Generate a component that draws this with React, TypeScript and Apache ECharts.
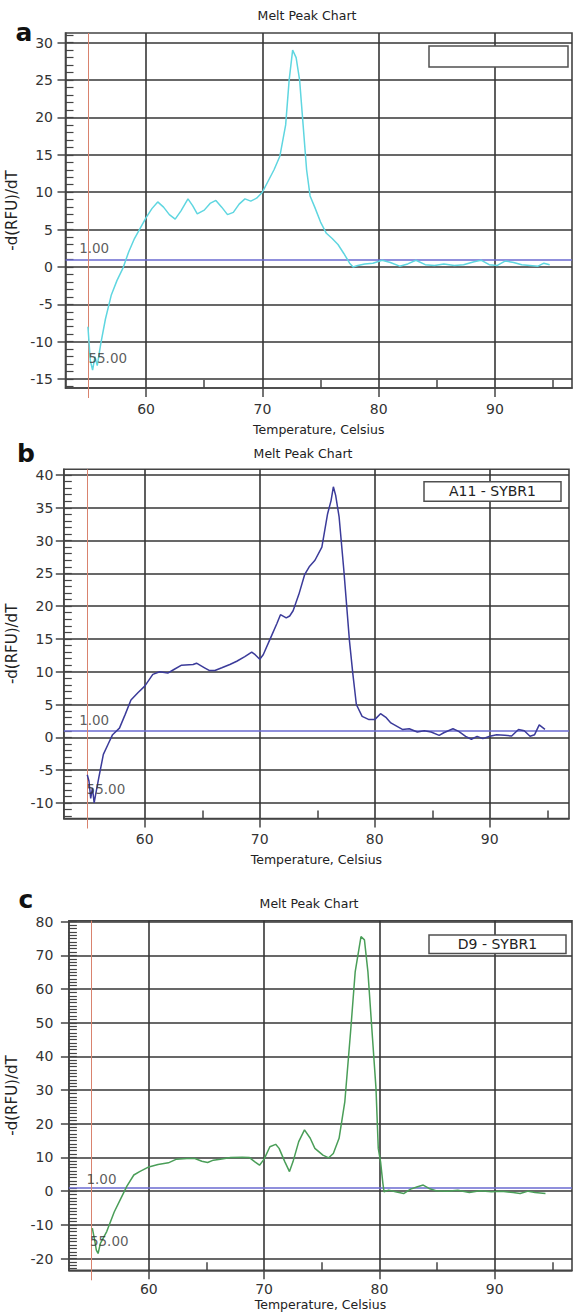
import React, { useEffect, useRef } from 'react';
import * as echarts from 'echarts';

// ---------- axis ticks ----------
const X_MAJOR_TICKS = [60, 70, 80, 90];
const X_MINOR_TICKS = [65, 75, 85, 95];
const MELT_MARKER_TEMP = 55;
const THRESHOLD = 1;
const A_Y_TICKS = [-15, -10, -5, 0, 5, 10, 15, 20, 25, 30];
const B_Y_TICKS = [-10, -5, 0, 5, 10, 15, 20, 25, 30, 35, 40];
const C_Y_TICKS = [-20, -10, 0, 10, 20, 30, 40, 50, 60, 70, 80];

// ---------- panel a ----------
const A_TEMP = [55.0, 55.2, 55.4, 55.6, 55.8, 56.1, 56.5, 57.0, 57.5, 58.0, 58.5, 59.0, 59.5, 60.0, 60.5, 61.0, 61.5, 62.0, 62.5, 63.0, 63.6, 64.0, 64.4, 65.0, 65.5, 66.0, 66.5, 67.0, 67.5, 68.0, 68.5, 69.0, 69.5, 70.0, 70.5, 71.0, 71.5, 72.0, 72.3, 72.6, 72.9, 73.2, 73.5, 73.8, 74.1, 74.5, 75.0, 75.5, 76.0, 76.5, 77.0, 77.5, 77.8, 78.2, 78.8, 79.5, 80.3, 81.0, 81.8, 82.5, 83.2, 84.0, 84.8, 85.6, 86.5, 87.3, 88.2, 88.8, 89.5, 90.2, 90.9, 91.6, 92.3, 93.0, 93.7, 94.2, 94.7];
const A_VALUE = [-8, -12.5, -13.8, -12, -13.2, -10.3, -7, -3.8, -1.8, -0.2, 2, 3.8, 5.2, 6.6, 7.8, 8.7, 8, 7, 6.4, 7.5, 9.1, 8.2, 7.1, 7.6, 8.5, 8.9, 8, 7, 7.3, 8.4, 9.1, 8.8, 9.2, 10, 11.5, 13, 14.8, 19, 25, 29, 28, 25, 19, 13, 9.5, 8, 6, 4.5, 3.8, 3, 1.8, 0.5, 0, 0.2, 0.4, 0.5, 0.9, 0.6, 0.1, 0.4, 0.9, 0.3, 0.2, 0.4, 0.2, 0.3, 0.7, 0.9, 0.3, 0.2, 0.8, 0.6, 0.3, 0.2, 0.1, 0.5, 0.3];

// ---------- panel b ----------
const B_TEMP = [55.0, 55.15, 55.3, 55.45, 55.6, 55.75, 56.0, 56.4, 56.8, 57.2, 57.8, 58.3, 58.8, 59.4, 60.0, 60.7, 61.3, 62.0, 62.5, 63.2, 64.2, 64.5, 65.2, 65.6, 66.1, 66.7, 67.4, 68.0, 68.7, 69.3, 69.6, 70.0, 70.3, 71.0, 71.5, 71.8, 72.3, 72.6, 72.9, 73.4, 73.9, 74.3, 74.8, 75.4, 75.9, 76.2, 76.4, 76.6, 76.9, 77.3, 77.8, 78.1, 78.4, 78.9, 79.5, 80.0, 80.5, 81.0, 81.4, 81.9, 82.4, 83.0, 83.7, 84.3, 84.9, 85.6, 86.0, 86.8, 87.3, 87.9, 88.4, 88.9, 89.4, 90.0, 90.6, 91.3, 91.9, 92.5, 93.0, 93.5, 93.9, 94.3, 94.8];
const B_VALUE = [-5.7, -6.7, -9.3, -7.7, -10, -8.5, -6.2, -2.6, -1.1, 0.4, 1.4, 3.5, 5.7, 6.8, 7.8, 9.6, 10, 9.8, 10.3, 11, 11.1, 11.3, 10.6, 10.2, 10.2, 10.6, 11.1, 11.6, 12.3, 13, 12.6, 11.9, 12.6, 15.4, 17.4, 18.7, 18.2, 18.5, 19.3, 21.8, 24.8, 26, 27, 29, 34.1, 36.1, 38.2, 36.9, 33.6, 25.7, 14.7, 9.6, 5, 3.2, 2.7, 2.7, 3.6, 3, 2.2, 1.7, 1.2, 1.3, 0.8, 1, 0.8, 0.3, 0.7, 1.3, 0.9, 0.15, -0.3, 0.15, -0.2, 0.15, 0.4, 0.3, 0.2, 1.2, 1, 0.15, 0.4, 1.9, 1.2];

// ---------- panel c ----------
const C_TEMP = [55.1, 55.3, 55.45, 55.6, 55.8, 56.35, 57.0, 57.6, 58.1, 58.7, 59.2, 60.0, 60.8, 61.7, 62.4, 63.3, 64.0, 64.6, 65.1, 65.6, 66.2, 67.1, 68.1, 68.7, 69.2, 69.6, 70.0, 70.5, 71.0, 71.3, 71.8, 72.2, 72.5, 73.0, 73.5, 74.0, 74.4, 75.1, 75.6, 76.0, 76.5, 77.0, 77.5, 77.9, 78.4, 78.7, 79.0, 79.4, 79.7, 79.9, 80.1, 80.3, 80.4, 80.8, 81.4, 82.1, 82.7, 83.3, 83.8, 84.3, 84.9, 85.9, 86.8, 87.8, 88.7, 89.7, 90.6, 91.6, 92.2, 92.9, 93.5, 94.4];
const C_VALUE = [-11, -14.5, -17.5, -18.5, -15.5, -12, -6.2, -2, 1.5, 4.8, 5.8, 7.2, 7.9, 8.4, 9.5, 9.7, 9.7, 8.9, 8.5, 9.2, 9.5, 10, 10.1, 10, 8.7, 7.7, 9.5, 13.2, 13.9, 12.7, 8.7, 5.8, 8.7, 14.7, 18.2, 15.7, 12.7, 10.7, 9.9, 11.2, 15.7, 26.6, 47.4, 65.2, 75.6, 74.6, 65.2, 45.4, 30.6, 12.7, 8.7, 2.3, -0.2, 0.3, -0.2, -0.7, 0.6, 1.3, 1.8, 0.8, 0.1, 0, 0.3, -0.4, 0.1, -0.2, 0, -0.4, -0.7, 0, -0.4, -0.7];

// ---------- annotation anchors (data coords) ----------
const A_LABEL_ANCHORS = [[54.2, 2.5], [55.0, -12.2]];
const B_LABEL_ANCHORS = [[54.25, 2.6], [54.9, -7.9]];
const C_LABEL_ANCHORS = [[54.55, 3.65], [54.85, -14.8]];
const ANCHOR_TEXTS = ['1.00', '55.00'];

const SERIES_NAMES = ['', 'A11 - SYBR1', 'D9 - SYBR1'];

const FONT = '"DejaVu Sans", Arial, sans-serif';
const GRID_COLOR = '#363636';
const FRAME_COLOR = '#444444';

const PANELS = [
  {
    letter: 'a', letterPos: [24, 32], titlePos: [307, 15],
    grid: { left: 65.5, top: 33, width: 506.5, height: 355 },
    xMin: 53.07, xMax: 96.62, yMin: -16.2, yMax: 31.3, yTicks: A_Y_TICKS,
    yLabelMargin: 12.5, yNameGap: 33, xLabelMargin: 14, xNameGap: 35,
    color: '#5fd6e0', temps: A_TEMP, values: A_VALUE, anchors: A_LABEL_ANCHORS,
    legend: { x: 429, y: 46, w: 139, h: 21 },
  },
  {
    letter: 'b', letterPos: [26, 453], titlePos: [303, 453],
    grid: { left: 63.8, top: 469.3, width: 505.2, height: 349.2 },
    xMin: 52.96, xMax: 96.89, yMin: -12.38, yMax: 40.87, yTicks: B_Y_TICKS,
    yLabelMargin: 10.5, yNameGap: 30, xLabelMargin: 13, xNameGap: 34,
    color: '#3b3b9a', temps: B_TEMP, values: B_VALUE, anchors: B_LABEL_ANCHORS,
    legend: { x: 424, y: 481.7, w: 137, h: 19.5 },
  },
  {
    letter: 'c', letterPos: [26, 899], titlePos: [309, 903],
    grid: { left: 68.9, top: 920.7, width: 503.1, height: 349.6 },
    xMin: 53.07, xMax: 96.7, yMin: -23.5, yMax: 80.3, yTicks: C_Y_TICKS,
    yLabelMargin: 15.6, yNameGap: 34, xLabelMargin: 12, xNameGap: 28,
    color: '#4a9e58', temps: C_TEMP, values: C_VALUE, anchors: C_LABEL_ANCHORS,
    legend: { x: 429, y: 935, w: 137, h: 18.5 },
  },
];

function intRange(lo: number, hi: number) {
  const out: number[] = [];
  for (let v = Math.ceil(lo); v <= Math.floor(hi); v++) out.push(v);
  return out;
}

function buildOption() {
  const grids: any[] = [];
  const xAxes: any[] = [];
  const yAxes: any[] = [];
  const series: any[] = [];
  const graphics: any[] = [];

  PANELS.forEach((p, i) => {
    grids.push({
      left: p.grid.left, top: p.grid.top, width: p.grid.width, height: p.grid.height,
      show: true, borderColor: FRAME_COLOR, borderWidth: 1.6, backgroundColor: '#ffffff',
      containLabel: false, outerBoundsMode: 'none',
    });

    const tickStyle = { color: FRAME_COLOR, width: 1.5 };
    // main x axis
    xAxes.push({
      type: 'value', gridIndex: i, min: p.xMin, max: p.xMax, position: 'bottom',
      axisLine: { show: true, onZero: false, lineStyle: tickStyle },
      axisTick: { show: true, customValues: X_MAJOR_TICKS, length: 9, inside: false, lineStyle: tickStyle },
      axisLabel: { show: true, customValues: X_MAJOR_TICKS, margin: p.xLabelMargin, fontSize: 14, color: '#333', fontFamily: FONT },
      splitLine: { show: true, lineStyle: { color: GRID_COLOR, width: 1.6 } },
      name: 'Temperature, Celsius', nameLocation: 'middle', nameGap: p.xNameGap,
      nameTextStyle: { fontSize: 12.5, color: '#222', fontFamily: FONT },
    });
    // minor inside x ticks
    xAxes.push({
      type: 'value', gridIndex: i, min: p.xMin, max: p.xMax, position: 'bottom',
      axisLine: { show: false, onZero: false },
      axisTick: { show: true, customValues: X_MINOR_TICKS, length: 8, inside: true, lineStyle: tickStyle },
      axisLabel: { show: false }, splitLine: { show: false },
    });
    // red marker tick below the frame
    xAxes.push({
      type: 'value', gridIndex: i, min: p.xMin, max: p.xMax, position: 'bottom',
      axisLine: { show: false, onZero: false },
      axisTick: { show: true, customValues: [MELT_MARKER_TEMP], length: 10, inside: false, lineStyle: { color: '#d9836e', width: 1 } },
      axisLabel: { show: false }, splitLine: { show: false },
    });

    // main y axis
    yAxes.push({
      type: 'value', gridIndex: i, min: p.yMin, max: p.yMax, position: 'left',
      axisLine: { show: true, onZero: false, lineStyle: tickStyle },
      axisTick: { show: true, customValues: p.yTicks, length: 8, inside: false, lineStyle: tickStyle },
      axisLabel: { show: true, customValues: p.yTicks, margin: p.yLabelMargin, fontSize: 14, color: '#333', fontFamily: FONT },
      splitLine: { show: true, lineStyle: { color: GRID_COLOR, width: 1.6 } },
      name: '-d(RFU)/dT', nameLocation: 'middle', nameGap: p.yNameGap,
      nameTextStyle: { fontSize: 15, color: '#222', fontFamily: FONT },
    });
    // minor inside y ticks
    yAxes.push({
      type: 'value', gridIndex: i, min: p.yMin, max: p.yMax, position: 'left',
      axisLine: { show: false, onZero: false },
      axisTick: { show: true, customValues: intRange(p.yMin, p.yMax), length: 8, inside: true, lineStyle: { color: FRAME_COLOR, width: 1.2 } },
      axisLabel: { show: false }, splitLine: { show: false },
    });

    series.push({
      type: 'line', name: SERIES_NAMES[i], xAxisIndex: i * 3, yAxisIndex: i * 2,
      data: p.temps.map((t, k) => [t, p.values[k]]),
      showSymbol: false, symbol: 'none', z: 5,
      lineStyle: { color: p.color, width: 1.5 },
      markLine: {
        silent: true, symbol: ['none', 'none'], label: { show: false }, animation: false,
        data: [
          { yAxis: THRESHOLD, lineStyle: { color: '#6a6ad0', width: 1.6, type: 'solid' } },
          { xAxis: MELT_MARKER_TEMP, lineStyle: { color: '#d9836e', width: 1, type: 'solid' } },
        ],
      },
    });

    series.push({
      type: 'scatter', xAxisIndex: i * 3, yAxisIndex: i * 2, symbolSize: 1, z: 6,
      itemStyle: { color: 'transparent' }, silent: true,
      data: p.anchors.map((a, k) => ({
        value: a,
        label: {
          show: true, formatter: ANCHOR_TEXTS[k], position: 'right', distance: 0,
          fontSize: 13.5, color: '#333', fontFamily: FONT,
        },
      })),
    });

    graphics.push({
      type: 'text', x: p.titlePos[0], y: p.titlePos[1], z: 100,
      style: { text: 'Melt Peak Chart', fontSize: 12.5, fontFamily: FONT, fill: '#222', align: 'center', verticalAlign: 'middle', textAlign: 'center', textVerticalAlign: 'middle' },
    });
    graphics.push({
      type: 'text', x: p.letterPos[0], y: p.letterPos[1], z: 100,
      style: { text: p.letter, fontSize: 25, fontWeight: 'bold', fontFamily: FONT, fill: '#111', align: 'center', verticalAlign: 'middle', textAlign: 'center', textVerticalAlign: 'middle' },
    });
    graphics.push({
      type: 'rect', z: 100,
      shape: { x: p.legend.x, y: p.legend.y, width: p.legend.w, height: p.legend.h },
      style: { fill: '#ffffff', stroke: '#505050', lineWidth: 1.5 },
    });
    if (SERIES_NAMES[i]) {
      graphics.push({
        type: 'text', z: 101,
        x: p.legend.x + p.legend.w / 2, y: p.legend.y + p.legend.h / 2,
        style: { text: SERIES_NAMES[i], fontSize: 14, fontFamily: FONT, fill: '#222', align: 'center', verticalAlign: 'middle', textAlign: 'center', textVerticalAlign: 'middle' },
      });
    }
  });

  return {
    animation: false,
    backgroundColor: '#ffffff',
    grid: grids,
    xAxis: xAxes,
    yAxis: yAxes,
    series,
    graphic: { elements: graphics },
  };
}

export default function App() {
  const ref = useRef<HTMLDivElement>(null);
  useEffect(() => {
    document.body.style.margin = '0';
    if (!ref.current) return;
    const chart = echarts.init(ref.current, undefined, { renderer: 'svg' });
    chart.setOption(buildOption() as any);
    return () => chart.dispose();
  }, []);
  return <div ref={ref} style={{ width: 573, height: 1314 }} />;
}
